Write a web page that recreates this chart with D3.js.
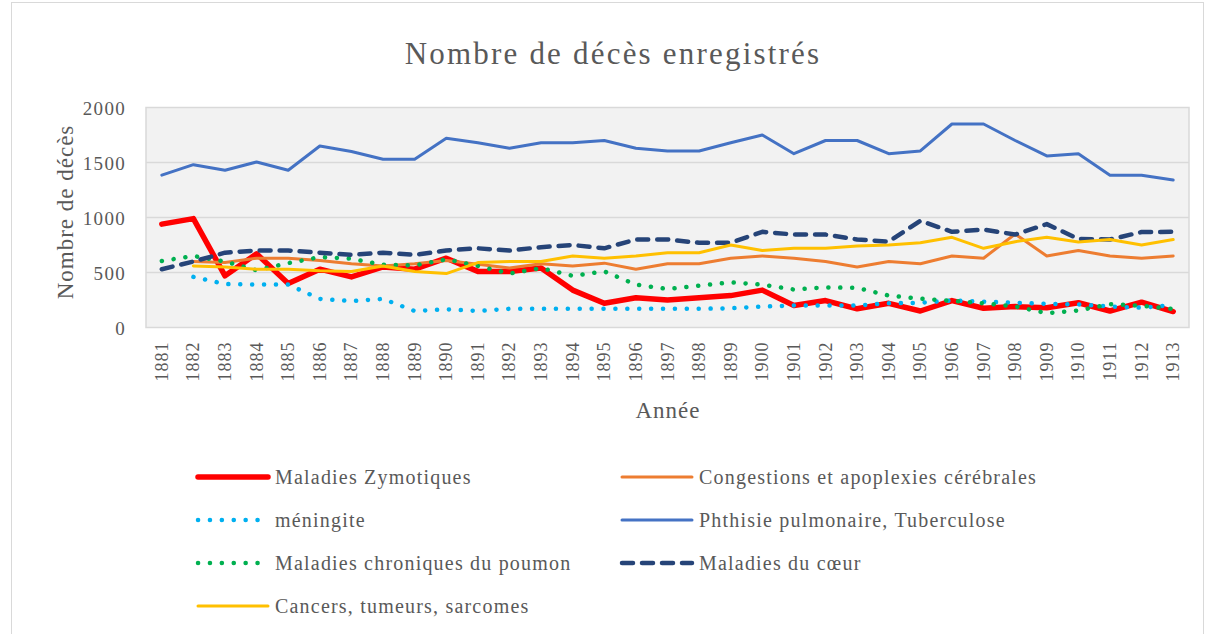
<!DOCTYPE html>
<html><head><meta charset="utf-8">
<script src="https://cdn.jsdelivr.net/npm/d3@7"></script>
<style>
html,body{margin:0;padding:0;background:#fff;}
svg{display:block;font-family:"Liberation Serif","DejaVu Serif",serif;}
</style></head>
<body>
<svg id="chart" width="1208" height="634"></svg>
<script>
const years = [1881,1882,1883,1884,1885,1886,1887,1888,1889,1890,1891,1892,1893,1894,1895,1896,1897,1898,1899,1900,1901,1902,1903,1904,1905,1906,1907,1908,1909,1910,1911,1912,1913];
const yTicks = [0,500,1000,1500,2000];

const zymotiques = [940,990,470,670,400,530,460,550,530,630,510,510,540,340,220,270,250,270,290,340,200,245,170,220,150,245,175,190,180,225,150,230,145];
const congestions = [null,600,590,630,630,610,580,560,580,610,575,540,580,560,585,530,580,580,630,650,630,600,550,600,580,650,630,850,650,700,650,630,650];
const meningite = [null,460,395,390,390,260,240,260,150,165,150,170,170,170,170,170,170,170,175,190,200,200,200,220,225,245,235,225,215,210,190,180,205];
const phthisie = [1385,1480,1430,1505,1430,1650,1600,1530,1530,1720,1680,1630,1680,1680,1700,1630,1605,1605,1680,1750,1580,1700,1700,1580,1605,1850,1850,1700,1560,1580,1385,1385,1340];
const poumon = [605,650,600,520,585,640,625,570,565,620,560,490,540,470,510,390,350,380,410,390,345,365,360,290,262,242,220,192,130,155,212,198,168];
const coeur = [530,600,680,700,700,680,660,680,660,700,720,700,730,750,720,800,800,770,770,870,845,845,800,780,970,870,890,845,940,805,800,868,870];
const cancers = [null,560,550,530,530,515,510,560,510,490,590,600,600,650,630,650,680,680,750,700,720,720,740,750,770,820,720,780,820,778,800,750,800];

const seriesNames = ["Maladies Zymotiques","Congestions et apoplexies cérébrales","méningite","Phthisie pulmonaire, Tuberculose","Maladies chroniques du poumon","Maladies du cœur","Cancers, tumeurs, sarcomes"];

const series = [
  {name:seriesNames[0], values:zymotiques, color:"#FF0000", width:5.5, dash:null, cap:"round"},
  {name:seriesNames[1], values:congestions, color:"#ED7D31", width:3, dash:null, cap:"round"},
  {name:seriesNames[2], values:meningite, color:"#00B0F0", width:4.5, dash:"0.1 11.8", cap:"round"},
  {name:seriesNames[3], values:phthisie, color:"#4472C4", width:3, dash:null, cap:"round"},
  {name:seriesNames[4], values:poumon, color:"#00B050", width:4.5, dash:"0.1 11.8", cap:"round"},
  {name:seriesNames[5], values:coeur, color:"#264478", width:4.5, dash:"11 9", cap:"round"},
  {name:seriesNames[6], values:cancers, color:"#FFC000", width:3, dash:null, cap:"round"}
];

const svg = d3.select("#chart");
const textColor = "#595959";
const serif = "'Liberation Serif',serif";

// outer border
svg.append("rect").attr("x",11.5).attr("y",2.5).attr("width",1192).attr("height",640)
  .attr("fill","#fff").attr("stroke","#D9D9D9").attr("stroke-width",1);

const plot = {left:146, right:1189, top:107.5, bottom:327.5};

const x = d3.scaleBand().domain(years).range([plot.left, plot.right]);
const y = d3.scaleLinear().domain([0,2000]).range([plot.bottom, plot.top]);

svg.append("rect").attr("x",plot.left).attr("y",plot.top)
  .attr("width",plot.right-plot.left).attr("height",plot.bottom-plot.top)
  .attr("fill","#F2F2F2").attr("stroke","#D9D9D9").attr("stroke-width",1.5);

// gridlines
svg.append("g").selectAll("line").data(yTicks.filter(d=>d>0 && d<2000)).join("line")
  .attr("x1",plot.left).attr("x2",plot.right)
  .attr("y1",d=>y(d)).attr("y2",d=>y(d))
  .attr("stroke","#D9D9D9").attr("stroke-width",1.5);

// y axis
const yAxis = svg.append("g").attr("transform",`translate(${plot.left-20},0)`)
  .call(d3.axisLeft(y).tickValues(yTicks).tickFormat(d3.format("d")).tickSize(0).tickPadding(0));
yAxis.select(".domain").remove();
yAxis.selectAll("text").attr("font-size",19).attr("fill",textColor)
  .attr("font-family",serif).attr("dy","0.35em").attr("letter-spacing","1.3px");

// x axis
const xAxis = svg.append("g").attr("transform",`translate(0,${plot.bottom})`)
  .call(d3.axisBottom(x).tickSize(0).tickPadding(0));
xAxis.select(".domain").remove();
xAxis.selectAll("text")
  .attr("font-size",18).attr("fill",textColor).attr("font-family",serif)
  .attr("text-anchor","end").attr("dy",null).attr("y",0).attr("x",0)
  .attr("dominant-baseline","central")
  .attr("transform","translate(0,14) rotate(-90)")
  .attr("letter-spacing","1px");

// axis titles
svg.append("text").attr("x",668).attr("y",418).attr("text-anchor","middle")
  .attr("font-size",23).attr("letter-spacing","1px").attr("fill",textColor).text("Année");
svg.append("text").attr("transform","translate(73,212) rotate(-90)").attr("text-anchor","middle")
  .attr("font-size",23).attr("letter-spacing","1px").attr("fill",textColor).text("Nombre de décès");

// title
svg.append("text").attr("x",613).attr("y",64).attr("text-anchor","middle")
  .attr("font-size",31).attr("letter-spacing","2.2px").attr("fill",textColor).text("Nombre de décès enregistrés");

// lines
const line = d3.line()
  .defined(d=>d.v!=null)
  .x(d=>x(d.year)+x.bandwidth()/2)
  .y(d=>y(d.v));

const gLines = svg.append("g");
series.forEach(s=>{
  const data = years.map((yr,i)=>({year:yr, v:s.values[i]}));
  gLines.append("path").datum(data)
    .attr("d",line).attr("fill","none")
    .attr("stroke",s.color).attr("stroke-width",s.width)
    .attr("stroke-linejoin","round").attr("stroke-linecap",s.cap)
    .attr("stroke-dasharray",s.dash);
});

// legend
const legendPos = [
  [196,477],[620,477],
  [196,520],[620,520],
  [196,563],[620,563],
  [196,606]
];
const lg = svg.append("g");
series.forEach((s,i)=>{
  const [lx,ly] = legendPos[i];
  lg.append("line").attr("x1",lx+2).attr("x2",lx+72).attr("y1",ly).attr("y2",ly)
    .attr("stroke",s.color).attr("stroke-width",s.width)
    .attr("stroke-linecap",s.cap).attr("stroke-dasharray",s.dash);
  lg.append("text").attr("x",lx+79).attr("y",ly).attr("dy","0.35em")
    .attr("font-size",20).attr("letter-spacing","1.2px").attr("fill",textColor).text(s.name);
});
</script>
</body></html>
